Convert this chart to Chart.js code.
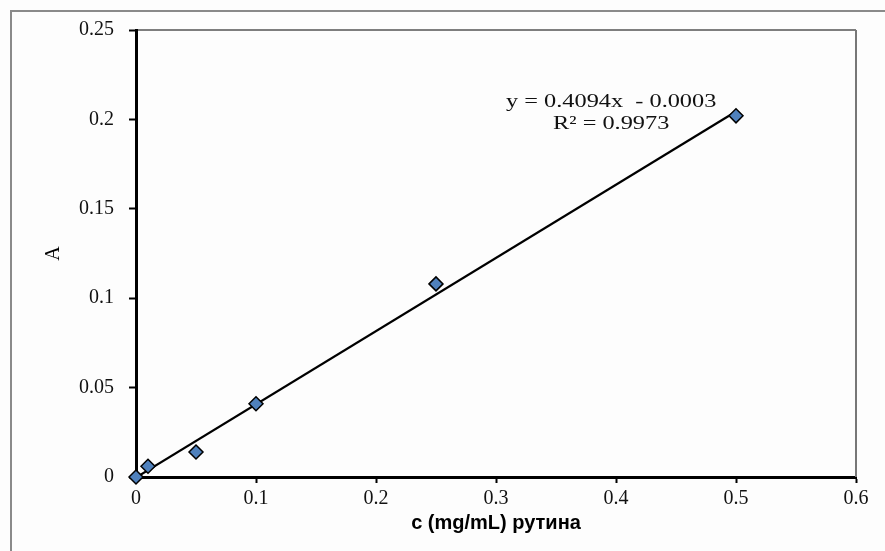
<!DOCTYPE html>
<html>
<head>
<meta charset="utf-8">
<script src="https://cdn.jsdelivr.net/npm/chart.js@4.4.0/dist/chart.umd.min.js"></script>
<style>
  html, body { margin: 0; padding: 0; background: #fdfdfd; }
  #wrap { width: 885px; height: 551px; position: relative; }
</style>
</head>
<body>
<div id="wrap"><canvas id="calChart" width="885" height="551"></canvas></div>
<script>
// --------- Data ---------
const concentrations = [0, 0.01, 0.05, 0.1, 0.25, 0.5];
const absorbance = [0, 0.006, 0.014, 0.041, 0.108, 0.202];
const trendX = [0, 0.5];
const slope = 0.4094;
const intercept = -0.0003;
const r2 = 0.9973;
const xTicks = [0, 0.1, 0.2, 0.3, 0.4, 0.5, 0.6];
const yTicks = [0, 0.05, 0.1, 0.15, 0.2, 0.25];

const trendPoints = trendX.map(x => ({ x: x, y: slope * x + intercept }));
const points = concentrations.map((c, i) => ({ x: c, y: absorbance[i] }));

const serif = "'Liberation Serif', 'DejaVu Serif', serif";

// --------- Frame + equation plugin ---------
const framePlugin = {
  id: "frame",
  beforeDraw(chart) {
    const c = chart.ctx;
    c.save();
    c.strokeStyle = "#8a8a8a";
    c.lineWidth = 2;
    c.beginPath();
    c.moveTo(11, 551);
    c.lineTo(11, 11);
    c.lineTo(885, 11);
    c.stroke();
    c.restore();
  },
  beforeDatasetsDraw(chart) {
    const { ctx: c, chartArea: a } = chart;
    c.save();
    // top and right edge of plot area
    c.lineWidth = 1.2;
    c.strokeStyle = "#000";
    c.beginPath();
    c.moveTo(a.left, a.top);
    c.lineTo(a.right, a.top);
    c.stroke();
    c.strokeStyle = "#777";
    c.lineWidth = 2;
    c.beginPath();
    c.moveTo(a.right, a.top);
    c.lineTo(a.right, a.bottom);
    c.stroke();
    c.restore();
  },
  afterDatasetsDraw(chart) {
    const { ctx: c, scales } = chart;
    c.save();
    // trendline equation
    const ex = scales.x.getPixelForValue(0.396);
    const ey = scales.y.getPixelForValue(0.2095);
    c.fillStyle = "#111";
    c.font = "19px " + serif;
    c.textAlign = "center";
    c.textBaseline = "middle";
    c.translate(ex, ey);
    c.scale(1.28, 1);
    c.fillText(`y = ${slope}x  - ${Math.abs(intercept).toFixed(4)}`, 0, 0);
    c.fillText(`R² = ${r2}`, 0, 22);
    c.restore();
  }
};

new Chart(document.getElementById("calChart"), {
  type: "scatter",
  data: {
    datasets: [
      {
        label: "Absorbance",
        data: points,
        pointStyle: "rectRot",
        pointRadius: 7,
        pointBackgroundColor: "#4f81bd",
        pointBorderColor: "#000",
        pointBorderWidth: 1.5,
        showLine: false,
        clip: false,
        order: 0
      },
      {
        label: "Linear",
        data: trendPoints,
        showLine: true,
        borderColor: "#000",
        borderWidth: 2.2,
        pointRadius: 0,
        order: 1
      }
    ]
  },
  options: {
    responsive: false,
    animation: false,
    layout: { padding: { left: 0, top: 30, right: 29, bottom: 0 } },
    plugins: {
      legend: { display: false },
      tooltip: { enabled: false }
    },
    scales: {
      x: {
        type: "linear",
        min: 0,
        max: 0.6,
        afterBuildTicks: axis => { axis.ticks = xTicks.map(v => ({ value: v })); },
        afterFit: axis => { axis.height = 74; },
        border: { display: true, color: "#000", width: 3 },
        grid: { display: true, drawOnChartArea: false, drawTicks: true, tickLength: 6, tickColor: "#000", tickWidth: 2 },
        ticks: {
          color: "#111",
          font: { family: serif, size: 20 },
          padding: 4,
          maxRotation: 0,
          callback: v => String(v)
        },
        title: {
          display: true,
          text: "c (mg/mL) рутина",
          color: "#000",
          font: { family: "'Liberation Sans', Arial, sans-serif", size: 20, weight: "bold" },
          padding: { top: 4, bottom: 16 }
        }
      },
      y: {
        type: "linear",
        min: 0,
        max: 0.25,
        afterBuildTicks: axis => { axis.ticks = yTicks.map(v => ({ value: v })); },
        afterFit: axis => { axis.width = 136; },
        border: { display: true, color: "#000", width: 3 },
        grid: { display: true, drawOnChartArea: false, drawTicks: true, tickLength: 7, tickColor: "#000", tickWidth: 2 },
        ticks: {
          color: "#111",
          font: { family: serif, size: 20 },
          padding: 15,
          callback: v => String(v)
        },
        title: {
          display: true,
          text: "A",
          color: "#000",
          font: { family: serif, size: 20 },
          padding: { top: 42, bottom: 10 }
        }
      }
    }
  },
  plugins: [framePlugin]
});
</script>
</body>
</html>
